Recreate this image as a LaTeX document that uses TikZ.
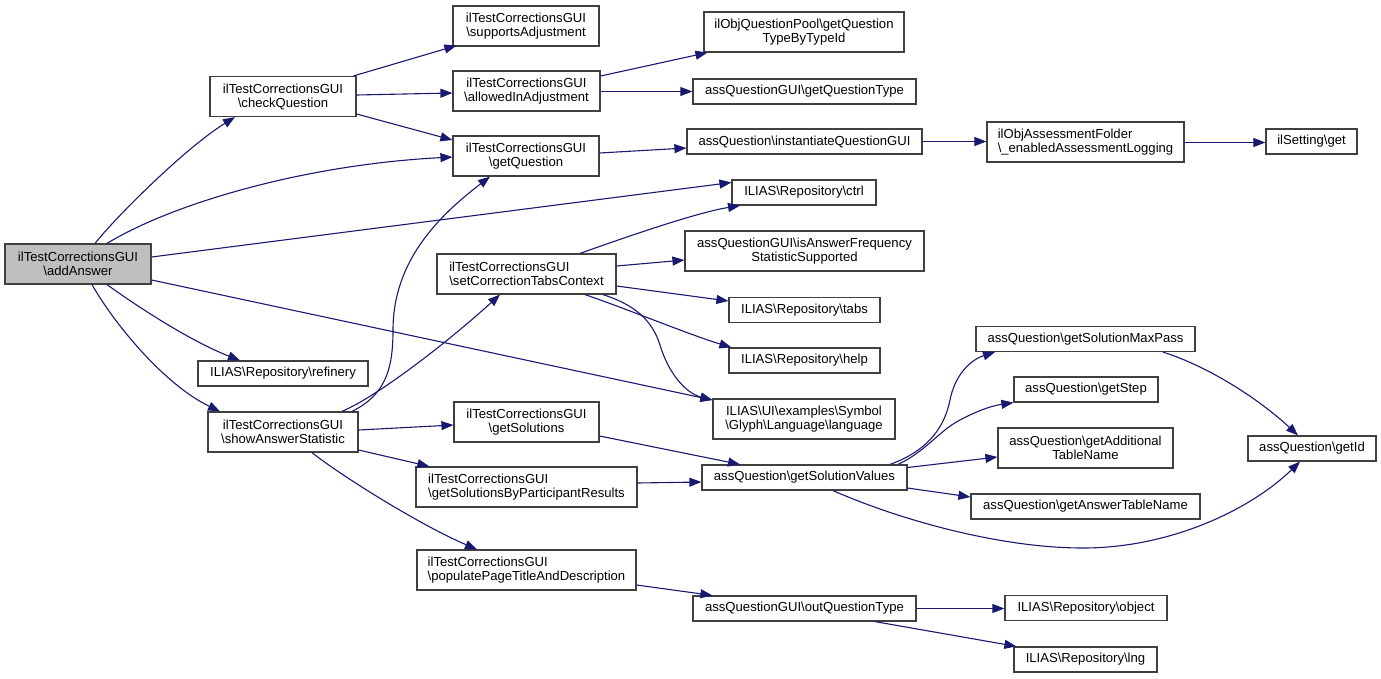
\documentclass[tikz,border=0pt]{standalone}
\usepackage{fontspec}
\setmainfont{Liberation Sans}
\usetikzlibrary{arrows.meta}
\definecolor{edgeblue}{HTML}{191970}
\definecolor{boxline}{HTML}{404040}
\definecolor{hilite}{HTML}{BFBFBF}
\def\bs{\textbackslash}
\tikzset{
  box/.style={draw=boxline, line width=1.2pt, fill=white, inner sep=0pt,
    font=\fontsize{13.1}{14}\selectfont, align=center},
  lbox/.style={box, align=left},
  edge/.style={draw=edgeblue, line width=1.1pt, -{Triangle[length=12pt,width=9pt]}},
}
\begin{document}
\begin{tikzpicture}[x=1pt,y=-1pt]
\useasboundingbox (0,0) rectangle (1381,678);
% nodes
\node[box, fill=hilite, minimum width=146pt, minimum height=40pt] (addAnswer) at (78,264) {ilTestCorrectionsGUI\\\bs addAnswer};
\node[box, minimum width=146pt, minimum height=40pt] (checkQuestion) at (283,96.5) {ilTestCorrectionsGUI\\\bs checkQuestion};
\node[box, minimum width=170pt, minimum height=25pt] (refinery) at (283,373.5) {ILIAS\bs Repository\bs refinery};
\node[box, minimum width=150pt, minimum height=40pt] (showStat) at (283,432) {ilTestCorrectionsGUI\\\bs showAnswerStatistic};
\node[box, minimum width=146pt, minimum height=40pt] (supports) at (526,26) {ilTestCorrectionsGUI\\\bs supportsAdjustment};
\node[box, minimum width=147pt, minimum height=40pt] (allowed) at (526.5,91) {ilTestCorrectionsGUI\\\bs allowedInAdjustment};
\node[box, minimum width=146pt, minimum height=40pt] (getQuestion) at (526,156) {ilTestCorrectionsGUI\\\bs getQuestion};
\node[box, minimum width=200pt, minimum height=40pt] (typeById) at (804,32) {ilObjQuestionPool\bs getQuestion\\TypeByTypeId};
\node[box, minimum width=223pt, minimum height=25pt] (getQType) at (804.5,91.5) {assQuestionGUI\bs getQuestionType};
\node[box, minimum width=235pt, minimum height=25pt] (instGUI) at (804.5,141.5) {assQuestion\bs instantiateQuestionGUI};
\node[box, minimum width=144pt, minimum height=25pt] (ctrl) at (804,192.5) {ILIAS\bs Repository\bs ctrl};
\node[lbox, minimum width=179pt, minimum height=40pt] (setTabs) at (526.5,274) {ilTestCorrectionsGUI\\\bs setCorrectionTabsContext};
\node[box, minimum width=239pt, minimum height=40pt] (freq) at (804.5,251) {assQuestionGUI\bs isAnswerFrequency\\StatisticSupported};
\node[box, minimum width=151pt, minimum height=25pt] (tabs) at (804.5,310) {ILIAS\bs Repository\bs tabs};
\node[box, minimum width=151pt, minimum height=25pt] (help) at (804.5,360.5) {ILIAS\bs Repository\bs help};
\node[box, minimum width=182pt, minimum height=40pt] (language) at (804,419) {ILIAS\bs UI\bs examples\bs Symbol\\\bs Glyph\bs Language\bs language};
\node[box, minimum width=145pt, minimum height=40pt] (getSolutions) at (526.5,422) {ilTestCorrectionsGUI\\\bs getSolutions};
\node[lbox, minimum width=197pt, minimum height=40pt] (assFolder) at (1085.5,142) {ilObjAssessmentFolder\\\bs\_enabledAssessmentLogging};
\node[box, minimum width=91pt, minimum height=25pt] (settingGet) at (1311.5,141.5) {ilSetting\bs get};
\node[box, minimum width=219pt, minimum height=25pt] (maxPass) at (1085.5,339) {assQuestion\bs getSolutionMaxPass};
\node[box, minimum width=144pt, minimum height=25pt] (getStep) at (1086,389.5) {assQuestion\bs getStep};
\node[box, minimum width=175pt, minimum height=40pt] (addTable) at (1085.5,448) {assQuestion\bs getAdditional\\TableName};
\node[box, minimum width=229pt, minimum height=25pt] (ansTable) at (1085.5,506.5) {assQuestion\bs getAnswerTableName};
\node[box, minimum width=128pt, minimum height=25pt] (getId) at (1312,448.5) {assQuestion\bs getId};
\node[lbox, minimum width=221pt, minimum height=40pt] (byPart) at (526.5,487) {ilTestCorrectionsGUI\\\bs getSolutionsByParticipantResults};
\node[box, minimum width=205pt, minimum height=25pt] (solValues) at (804.5,477.5) {assQuestion\bs getSolutionValues};
\node[lbox, minimum width=219pt, minimum height=40pt] (populate) at (526.5,570) {ilTestCorrectionsGUI\\\bs populatePageTitleAndDescription};
\node[box, minimum width=223pt, minimum height=25pt] (outQType) at (804.5,608.5) {assQuestionGUI\bs outQuestionType};
\node[box, minimum width=162pt, minimum height=25pt] (object) at (1086,608) {ILIAS\bs Repository\bs object};
\node[box, minimum width=143pt, minimum height=25pt] (lng) at (1085.5,659.5) {ILIAS\bs Repository\bs lng};
% edges from addAnswer
\draw[edge] ([xshift=17pt]addAnswer.north) .. controls (115,218) and (185,148) .. ([xshift=-48pt]checkQuestion.south);
\draw[edge] ([xshift=29pt]addAnswer.north) .. controls (170,205) and (300,165) .. ([yshift=-1pt]getQuestion.west);
\draw[edge] ([yshift=7pt]addAnswer.east) -- ([yshift=10pt]ctrl.west);
\draw[edge] ([yshift=-16pt]addAnswer.east) -- ([yshift=19pt]language.west);
\draw[edge] ([xshift=29pt]addAnswer.south) .. controls (145,312) and (195,343) .. ([xshift=-43pt]refinery.north);
\draw[edge] ([xshift=14pt]addAnswer.south) .. controls (115,325) and (165,385) .. ([xshift=-63pt]showStat.north);
% checkQuestion
\draw[edge] ([xshift=-3pt]checkQuestion.north east) -- ([xshift=4pt,yshift=1pt]supports.south west);
\draw[edge] ([yshift=1.5pt]checkQuestion.east) -- ([yshift=-2pt]allowed.west);
\draw[edge] ([yshift=-17.5pt]checkQuestion.east) -- ([yshift=16pt]getQuestion.west);
% allowedInAdjustment
\draw[edge] ([yshift=15pt]allowed.east) -- ([xshift=4pt]typeById.south west);
\draw[edge] ([yshift=-0.5pt]allowed.east) -- ([yshift=-0.5pt]allowed.east -| getQType.west);
% getQuestion chain
\draw[edge] ([yshift=3pt]getQuestion.east) -- ([yshift=-6.5pt]instGUI.west);
\draw[edge] (instGUI.east) -- (instGUI.east -| assFolder.west);
\draw[edge] ([yshift=-0.5pt]assFolder.east) -- ([yshift=-0.5pt]assFolder.east -| settingGet.west);
% showAnswerStatistic
\draw[edge] ([xshift=69pt]showStat.north) .. controls (385,395) and (393,370) .. (393,330) .. controls (393,260) and (440,215) .. ([xshift=-36pt]getQuestion.south);
\draw[edge] ([xshift=59pt]showStat.north) .. controls (380,395) and (450,340) .. ([xshift=-26.5pt]setTabs.south);
\draw[edge] ([yshift=2pt]showStat.east) -- ([yshift=-3pt]getSolutions.west);
\draw[edge] ([yshift=-18pt]showStat.east) -- ([xshift=14pt]byPart.north west);
\draw[edge] ([xshift=29pt]showStat.south) .. controls (340,475) and (420,525) .. ([xshift=-49.5pt]populate.north);
% setCorrectionTabsContext
\draw[edge] ([xshift=53.5pt]setTabs.north) .. controls (640,232) and (700,212) .. ([xshift=-64pt]ctrl.south);
\draw[edge] ([yshift=8pt]setTabs.east) -- ([yshift=-9pt]freq.west);
\draw[edge] ([yshift=-12pt]setTabs.east) -- ([yshift=9pt]tabs.west);
\draw[edge] ([xshift=58.5pt]setTabs.south) .. controls (630,310) and (690,335) .. ([xshift=3pt]help.north west);
\draw[edge] ([xshift=76.5pt]setTabs.south) .. controls (635,305) and (652,320) .. (660,345) .. controls (668,372) and (685,393) .. ([yshift=19pt]language.west);
% solutions
\draw[edge] ([yshift=-14pt]getSolutions.east) -- ([xshift=-64.5pt]solValues.north);
\draw[edge] ([yshift=4pt]byPart.east) -- ([yshift=-4.5pt]solValues.west);
\draw[edge] ([xshift=85.5pt]solValues.north) .. controls (930,450) and (945,425) .. (950,400) .. controls (955,375) and (970,360) .. ([xshift=-90.5pt]maxPass.south);
\draw[edge] ([xshift=93.5pt]solValues.north) .. controls (925,452) and (940,430) .. (960,420) .. controls (975,412) and (990,406) .. (getStep.south west);
\draw[edge] ([yshift=10pt]solValues.east) -- ([yshift=-9pt]addTable.west);
\draw[edge] ([yshift=-10.5pt]solValues.east) -- ([yshift=9.5pt]ansTable.west);
\draw[edge] ([xshift=28.5pt]solValues.south) .. controls (900,520) and (1000,548) .. (1083,548) .. controls (1170,548) and (1250,510) .. ([xshift=-12pt]getId.south);
\draw[edge] ([xshift=77.5pt]maxPass.south) .. controls (1210,367) and (1260,400) .. ([xshift=-14pt]getId.north);
% populate
\draw[edge] ([yshift=-15pt]populate.east) -- ([xshift=20pt]outQType.north west);
\draw[edge] (outQType.east) -- (outQType.east -| object.west);
\draw[edge] ([xshift=70.5pt]outQType.south) -- ([xshift=3pt]lng.north west);
\end{tikzpicture}
\end{document}
